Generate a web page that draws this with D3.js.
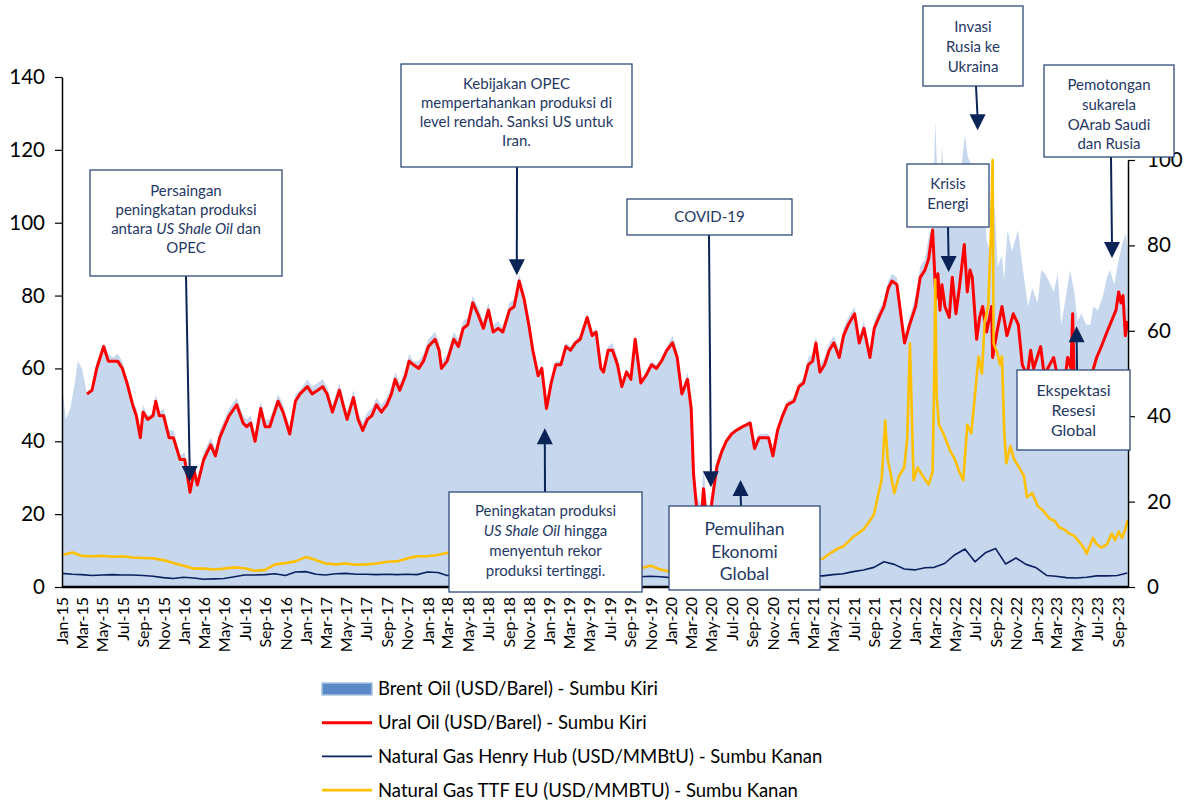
<!DOCTYPE html>
<html>
<head>
<meta charset="utf-8">
<script src="https://cdn.jsdelivr.net/npm/d3@7"></script>
<style>
  body { margin: 0; background: #fff; }
  svg { font-family: Lato, "Open Sans", sans-serif; }
</style>
</head>
<body>
<svg width="1188" height="803"></svg>
<script>
// Brent (USD/barel), left axis
var brent = [
  ["2015-01-01",55],["2015-01-13",46],["2015-01-26",49],["2015-02-10",57],["2015-02-17",62],["2015-03-02",60],["2015-03-17",53],["2015-04-01",55],["2015-04-15",62],["2015-05-06",67],["2015-05-20",64],["2015-06-03",63],["2015-06-17",64],["2015-07-01",62],["2015-07-15",57],["2015-08-01",51],["2015-08-12",49],["2015-08-24",43],["2015-09-01",50],["2015-09-15",47],["2015-10-01",48],["2015-10-09",53],["2015-10-20",48],["2015-11-02",49],["2015-11-18",43],["2015-12-01",43],["2015-12-21",36],
  ["2016-01-04",37],["2016-01-20",28],["2016-02-01",34],["2016-02-11",30],["2016-03-01",37],["2016-03-22",41],["2016-04-05",38],["2016-04-18",43],["2016-05-02",46],["2016-05-16",49],["2016-06-08",52],["2016-06-27",47],["2016-07-08",46],["2016-07-20",47],["2016-08-02",42],["2016-08-19",51],["2016-09-01",46],["2016-09-15",46],["2016-10-10",53],["2016-10-25",50],["2016-11-14",44],["2016-12-01",53],["2016-12-15",54],
  ["2017-01-06",57],["2017-01-20",55],["2017-02-06",56],["2017-02-21",57],["2017-03-06",55],["2017-03-22",50],["2017-04-12",56],["2017-04-26",51],["2017-05-05",48],["2017-05-24",54],["2017-06-07",48],["2017-06-21",45],["2017-07-05",48],["2017-07-18",49],["2017-08-01",52],["2017-08-16",50],["2017-09-01",52],["2017-09-15",55],["2017-09-26",59],["2017-10-10",56],["2017-10-27",60],["2017-11-07",64],["2017-11-20",62],["2017-12-06",62],["2017-12-20",64],
  ["2018-01-04",68],["2018-01-24",70],["2018-02-05",67],["2018-02-12",62],["2018-03-01",64],["2018-03-21",70],["2018-04-04",68],["2018-04-18",73],["2018-05-02",74],["2018-05-17",80],["2018-06-01",77],["2018-06-18",73],["2018-07-03",78],["2018-07-17",72],["2018-08-01",73],["2018-08-15",71],["2018-09-04",78],["2018-09-18",79],["2018-10-03",86],["2018-10-18",80],["2018-11-01",73],["2018-11-13",66],["2018-11-29",59],["2018-12-10",61],["2018-12-24",50],
  ["2019-01-07",57],["2019-01-21",62],["2019-02-05",62],["2019-02-20",67],["2019-03-06",66],["2019-03-21",68],["2019-04-04",69],["2019-04-25",75],["2019-05-10",70],["2019-05-22",71],["2019-06-05",61],["2019-06-13",60],["2019-06-27",66],["2019-07-10",67],["2019-07-25",63],["2019-08-07",56],["2019-08-21",60],["2019-09-03",58],["2019-09-16",69],["2019-10-03",57],["2019-10-18",59],["2019-11-04",62],["2019-11-19",61],["2019-12-04",63],["2019-12-20",66],
  ["2020-01-06",69],["2020-01-20",65],["2020-02-03",54],["2020-02-20",59],["2020-03-02",51],["2020-03-09",34],["2020-03-18",25],["2020-03-31",23],["2020-04-08",33],["2020-04-21",19],["2020-05-04",27],["2020-05-18",35],["2020-06-01",38],["2020-06-15",40],["2020-07-01",42],["2020-07-15",43],["2020-08-03",44],["2020-08-26",46],["2020-09-08",40],["2020-09-22",42],["2020-10-06",42],["2020-10-20",42],["2020-11-02",37],["2020-11-16",44],["2020-12-01",48],["2020-12-15",51],
  ["2021-01-04",52],["2021-01-19",56],["2021-02-02",57],["2021-02-16",63],["2021-03-01",64],["2021-03-11",69],["2021-03-23",61],["2021-04-06",63],["2021-04-20",67],["2021-05-04",69],["2021-05-20",65],["2021-06-02",71],["2021-06-16",74],["2021-07-05",77],["2021-07-19",69],["2021-08-02",73],["2021-08-20",65],["2021-09-02",73],["2021-09-16",76],["2021-10-01",79],["2021-10-14",84],["2021-10-25",86],["2021-11-09",85],["2021-11-26",73],["2021-12-02",69],["2021-12-17",74],
  ["2022-01-04",80],["2022-01-18",88],["2022-02-01",90],["2022-02-14",97],["2022-02-24",99],["2022-03-04",128],["2022-03-16",98],["2022-03-24",121],["2022-04-11",98],["2022-04-21",108],["2022-05-03",105],["2022-05-17",112],["2022-06-01",124],["2022-06-10",118],["2022-06-20",116],["2022-07-05",108],["2022-07-15",100],["2022-07-29",108],["2022-08-05",95],["2022-08-16",92],["2022-08-29",105],["2022-09-07",88],["2022-09-20",91],["2022-09-26",84],["2022-10-07",98],["2022-10-20",92],["2022-11-07",98],["2022-11-22",87],["2022-12-07",77],["2022-12-20",82],
  ["2023-01-05",78],["2023-01-16",87],["2023-01-27",86],["2023-02-08",84],["2023-02-22",81],["2023-03-06",86],["2023-03-17",72],["2023-03-31",80],["2023-04-12",87],["2023-04-25",81],["2023-05-04",73],["2023-05-16",75],["2023-05-31",72],["2023-06-12",72],["2023-06-21",77],["2023-07-05",76],["2023-07-20",80],["2023-08-01",85],["2023-08-10",87],["2023-08-23",83],["2023-09-01",88],["2023-09-15",94],["2023-09-27",97],["2023-10-02",92]
];

// Urals (USD/barel), left axis
var ural = [
  ["2015-03-17",53],["2015-04-01",54],["2015-04-15",60],["2015-05-06",66],["2015-05-20",62],["2015-06-03",62],["2015-06-17",62],["2015-07-01",60],["2015-07-15",56],["2015-08-01",50],["2015-08-12",47],["2015-08-24",41],["2015-09-01",48],["2015-09-15",46],["2015-10-01",47],["2015-10-09",51],["2015-10-20",47],["2015-11-02",47],["2015-11-18",41],["2015-12-01",41],["2015-12-21",35],
  ["2016-01-04",35],["2016-01-20",26],["2016-02-01",32],["2016-02-11",28],["2016-03-01",35],["2016-03-22",39],["2016-04-05",36],["2016-04-18",41],["2016-05-02",44],["2016-05-16",47],["2016-06-08",50],["2016-06-27",45],["2016-07-08",44],["2016-07-20",45],["2016-08-02",40],["2016-08-19",49],["2016-09-01",44],["2016-09-15",44],["2016-10-10",51],["2016-10-25",48],["2016-11-14",42],["2016-12-01",51],["2016-12-15",53],
  ["2017-01-06",55],["2017-01-20",53],["2017-02-06",54],["2017-02-21",55],["2017-03-06",53],["2017-03-22",48],["2017-04-12",54],["2017-04-26",49],["2017-05-05",46],["2017-05-24",52],["2017-06-07",46],["2017-06-21",43],["2017-07-05",46],["2017-07-18",47],["2017-08-01",50],["2017-08-16",48],["2017-09-01",50],["2017-09-15",53],["2017-09-26",57],["2017-10-10",54],["2017-10-27",58],["2017-11-07",62],["2017-11-20",61],["2017-12-06",60],["2017-12-20",62],
  ["2018-01-04",66],["2018-01-24",68],["2018-02-05",65],["2018-02-12",60],["2018-03-01",62],["2018-03-21",68],["2018-04-04",66],["2018-04-18",71],["2018-05-02",72],["2018-05-17",78],["2018-06-01",75],["2018-06-18",71],["2018-07-03",76],["2018-07-17",70],["2018-08-01",71],["2018-08-15",70],["2018-09-04",76],["2018-09-18",77],["2018-10-03",84],["2018-10-18",79],["2018-11-01",72],["2018-11-13",65],["2018-11-29",58],["2018-12-10",60],["2018-12-24",49],
  ["2019-01-07",56],["2019-01-21",61],["2019-02-05",61],["2019-02-20",66],["2019-03-06",65],["2019-03-21",67],["2019-04-04",68],["2019-04-25",74],["2019-05-10",69],["2019-05-22",70],["2019-06-05",60],["2019-06-13",59],["2019-06-27",65],["2019-07-10",65],["2019-07-25",61],["2019-08-07",55],["2019-08-21",59],["2019-09-03",57],["2019-09-16",68],["2019-10-03",56],["2019-10-18",58],["2019-11-04",61],["2019-11-19",60],["2019-12-04",62],["2019-12-20",65],
  ["2020-01-06",67],["2020-01-20",63],["2020-02-03",53],["2020-02-20",57],["2020-03-02",49],["2020-03-09",31],["2020-03-18",22],["2020-03-31",17],["2020-04-08",27],["2020-04-21",14],["2020-05-04",24],["2020-05-18",33],["2020-06-01",37],["2020-06-15",40],["2020-07-01",42],["2020-07-15",43],["2020-08-03",44],["2020-08-26",45],["2020-09-08",38],["2020-09-22",41],["2020-10-06",41],["2020-10-20",41],["2020-11-02",36],["2020-11-16",43],["2020-12-01",47],["2020-12-15",50],
  ["2021-01-04",51],["2021-01-19",55],["2021-02-02",56],["2021-02-16",61],["2021-03-01",62],["2021-03-11",67],["2021-03-23",59],["2021-04-06",61],["2021-04-20",65],["2021-05-04",67],["2021-05-20",63],["2021-06-02",69],["2021-06-16",72],["2021-07-05",75],["2021-07-19",67],["2021-08-02",71],["2021-08-20",63],["2021-09-02",71],["2021-09-16",74],["2021-10-01",77],["2021-10-14",82],["2021-10-25",84],["2021-11-09",83],["2021-11-26",71],["2021-12-02",67],["2021-12-17",72],
  ["2022-01-04",77],["2022-01-18",85],["2022-02-01",87],["2022-02-12",90],["2022-02-24",98],["2022-03-06",79],["2022-03-12",86],["2022-03-18",76],["2022-03-24",83],["2022-04-02",77],["2022-04-15",74],["2022-04-24",85],["2022-05-05",75],["2022-05-15",82],["2022-05-30",94],["2022-06-08",81],["2022-06-16",87],["2022-06-23",85],["2022-07-06",68],["2022-07-15",74],["2022-07-24",77],["2022-08-05",70],["2022-08-20",77],["2022-08-23",63],["2022-09-05",70],["2022-09-20",77],["2022-10-05",69],["2022-10-24",75],["2022-11-08",72],["2022-11-20",61],["2022-12-05",58],["2022-12-15",65],["2022-12-24",60],
  ["2023-01-14",66],["2023-01-25",58],["2023-02-04",60],["2023-02-22",63],["2023-03-05",58],["2023-03-17",52],["2023-03-28",57],["2023-04-05",63],["2023-04-15",60],["2023-04-20",75],["2023-04-24",59],["2023-05-10",55],["2023-05-25",57],["2023-06-05",56],["2023-06-15",58],["2023-07-01",63],["2023-07-15",66],["2023-08-01",70],["2023-08-19",74],["2023-08-28",76],["2023-09-05",81],["2023-09-12",78],["2023-09-18",80],["2023-09-25",69],["2023-10-02",73]
];

// Henry Hub (USD/MMBtu), right axis, one value per month from Jan 2015 to Oct 2023
var hhStart = "2015-01-01";
var hhValues = [
  3.2, 3.0, 2.9, 2.7, 2.8, 2.9, 2.8, 2.8, 2.7, 2.5, 2.2, 2.0,
  2.3, 2.1, 1.8, 1.9, 2.0, 2.4, 2.8, 2.8, 2.9, 3.1, 2.7, 3.5,
  3.6, 3.0, 2.8, 3.1, 3.2, 3.0, 3.0, 2.9, 3.0, 2.9, 3.0, 2.9,
  3.5, 3.4, 2.7, 2.8, 2.8, 2.9, 2.9, 2.9, 3.0, 3.1, 3.4, 4.6,
  3.8, 3.0, 2.8, 2.7, 2.6, 2.5, 2.3, 2.2, 2.4, 2.4, 2.5, 2.4,
  2.2, 1.9, 1.8, 1.7, 1.8, 1.7, 1.8, 2.1, 2.2, 2.3, 2.8, 2.6,
  2.6, 3.5, 2.7, 2.6, 2.9, 3.1, 3.6, 4.0, 4.6, 5.9, 5.3, 4.2,
  4.0, 4.5, 4.6, 5.5, 7.5, 8.9, 5.9, 8.0, 9.0, 5.4, 6.8, 5.3,
  4.5, 2.7, 2.5, 2.2, 2.1, 2.3, 2.6, 2.6, 2.7, 3.3
];

// TTF (USD/MMBtu), right axis: monthly 2015-2020, then denser points
var ttfStart = "2015-01-01";
var ttfMonthly = [
  7.5, 8.1, 7.3, 7.2, 7.3, 7.1, 7.2, 6.9, 6.8, 6.7, 6.3, 5.6,
  5.0, 4.3, 4.3, 4.1, 4.3, 4.6, 4.4, 3.8, 4.0, 5.3, 5.6, 6.0,
  7.0, 6.3, 5.5, 5.3, 5.5, 5.2, 5.3, 5.5, 5.9, 6.0, 6.7, 7.2,
  7.2, 7.5, 8.0, 7.2, 7.7, 7.6, 7.9, 8.3, 9.5, 8.8, 8.4, 7.8,
  7.4, 6.0, 5.1, 4.9, 4.2, 3.7, 3.8, 3.4, 4.1, 4.4, 5.0, 4.1,
  3.6, 3.0, 2.9, 2.1, 1.7, 1.8, 2.0, 2.9, 4.0, 4.8, 5.0, 5.8
];
var ttfRecent = [
  ["2021-01-01",6.5],["2021-01-15",7.8],["2021-02-01",6.8],["2021-02-15",6.5],["2021-03-01",6.3],["2021-03-15",6.5],["2021-04-01",6.6],["2021-04-15",7.5],["2021-05-01",8.3],["2021-05-15",9.0],["2021-06-01",9.5],["2021-06-15",10.5],["2021-07-01",11.8],["2021-07-15",12.5],["2021-08-01",13.5],["2021-08-15",15],["2021-09-01",17],["2021-09-15",22],["2021-09-24",25],["2021-10-05",39],["2021-10-12",30],["2021-10-20",27],["2021-11-01",22],["2021-11-15",26],["2021-12-01",28],["2021-12-10",35],["2021-12-18",57],["2021-12-29",25],
  ["2022-01-10",28],["2022-01-25",26],["2022-02-12",24],["2022-02-24",27],["2022-03-01",50],["2022-03-04",72],["2022-03-08",45],["2022-03-15",38],["2022-03-28",36],["2022-04-17",32],["2022-05-01",30],["2022-05-15",27],["2022-05-27",25],["2022-06-08",38],["2022-06-20",36],["2022-07-01",45],["2022-07-12",54],["2022-07-22",50],["2022-07-30",62],["2022-08-10",66],["2022-08-18",83],["2022-08-23",100],["2022-08-26",57],["2022-09-05",55],["2022-09-15",52],["2022-09-20",54],["2022-09-27",36],["2022-10-03",29],["2022-10-15",33],["2022-10-26",30],["2022-11-10",28],["2022-11-25",26],["2022-12-04",21],["2022-12-20",22],
  ["2023-01-05",19],["2023-01-20",18],["2023-02-10",16],["2023-02-25",15.5],["2023-03-10",14],["2023-03-25",13.5],["2023-04-10",12.5],["2023-04-25",12],["2023-05-10",10.5],["2023-05-25",9],["2023-06-01",7.8],["2023-06-10",9.5],["2023-06-20",11.5],["2023-07-01",10],["2023-07-15",9.2],["2023-08-01",10],["2023-08-15",12.5],["2023-08-25",11],["2023-09-05",13],["2023-09-15",11.5],["2023-09-25",13.5],["2023-10-02",15.7]
];

var leftTicks = [0, 20, 40, 60, 80, 100, 120, 140];
var rightTicks = [0, 20, 40, 60, 80, 100];

var legendItems = [
  {label: "Brent Oil (USD/Barel) - Sumbu Kiri", type: "area"},
  {label: "Ural Oil (USD/Barel) - Sumbu Kiri", type: "ural"},
  {label: "Natural Gas Henry Hub (USD/MMBtU) - Sumbu Kanan", type: "hh"},
  {label: "Natural Gas TTF EU (USD/MMBTU) - Sumbu Kanan", type: "ttf"}
];

// annotation boxes: text, box in pixels, arrow tip at [date, left-axis value]
var notes = [
  {lines: ["Persaingan", "peningkatan produksi", "antara *US Shale Oil* dan", "OPEC"], tip: ["2016-01-19", 28.8]},
  {lines: ["Kebijakan OPEC", "mempertahankan produksi di", "level rendah. Sanksi US untuk", "Iran."], tip: ["2018-09-26", 85.6]},
  {lines: ["Peningkatan produksi", "*US Shale Oil* hingga", "menyentuh rekor", "produksi tertinggi."], tip: ["2018-12-19", 43.6]},
  {lines: ["COVID-19"], tip: ["2020-04-30", 27.4]},
  {lines: ["Pemulihan", "Ekonomi", "Global"], tip: ["2020-07-28", 29.4]},
  {lines: ["Invasi", "Rusia ke", "Ukraina"], tip: ["2022-07-09", 125.4]},
  {lines: ["Krisis", "Energi"], tip: ["2022-04-13", 86.5]},
  {lines: ["Pemotongan", "sukarela", "OArab Saudi", "dan Rusia"], tip: ["2023-08-16", 90.3]},
  {lines: ["Ekspektasi", "Resesi", "Global"], tip: ["2023-05-02", 71.6]}
];
var noteLayout = [
  {x: 90, y: 170, w: 192, h: 106, ty: 191, lh: 19, size: 15, ax: 186, dir: "down"},
  {x: 401, y: 64, w: 231, h: 103, ty: 84, lh: 19, size: 15, ax: 517, dir: "down"},
  {x: 449, y: 492, w: 193, h: 100, ty: 511, lh: 20, size: 15, ax: 545, dir: "up"},
  {x: 627, y: 199, w: 165, h: 36, ty: 217, lh: 19, size: 15, ax: 709, dir: "down"},
  {x: 669, y: 506, w: 151, h: 84, ty: 529, lh: 22.5, size: 17.5, ax: 741, dir: "up"},
  {x: 923, y: 6, w: 100, h: 80, ty: 27, lh: 20, size: 15, ax: 976, dir: "down"},
  {x: 907, y: 164, w: 82, h: 63, ty: 184, lh: 20, size: 15, ax: 948, dir: "down"},
  {x: 1044, y: 65, w: 130, h: 92, ty: 85, lh: 19.7, size: 15, ax: 1111, dir: "down"},
  {x: 1017, y: 370, w: 113, h: 80, ty: 390, lh: 20, size: 16, ax: 1077, dir: "up"}
];

var plot = {left: 62, right: 1128, top: 77, bottom: 587, rightTop: 160};
var navy = "#1f3864";

var parse = d3.timeParse("%Y-%m-%d");
function pairs(arr) { return arr.map(d => ({date: parse(d[0]), v: d[1]})); }
function monthly(start, vals) {
  var s = parse(start);
  return vals.map((v, i) => ({date: d3.timeMonth.offset(s, i), v: v}));
}

var brentData = pairs(brent);
var uralData = pairs(ural);
var hhData = monthly(hhStart, hhValues);
var ttfData = monthly(ttfStart, ttfMonthly).concat(pairs(ttfRecent));

var x = d3.scaleTime()
  .domain([parse("2015-01-01"), parse("2023-10-03")])
  .range([plot.left, plot.right]);
var yL = d3.scaleLinear().domain([0, 140]).range([plot.bottom, plot.top]);
var yR = d3.scaleLinear().domain([0, 100]).range([plot.bottom, plot.rightTop]);

var svg = d3.select("svg");

svg.append("path")
  .datum(brentData)
  .attr("fill", "#c6d7ee")
  .attr("d", d3.area().x(d => x(d.date)).y0(yL(0)).y1(d => yL(d.v)));

var lineL = d3.line().x(d => x(d.date)).y(d => yL(d.v));
var lineR = d3.line().x(d => x(d.date)).y(d => yR(d.v));

svg.append("path").datum(uralData)
  .attr("fill", "none").attr("stroke", "#ff0000").attr("stroke-width", 3)
  .attr("stroke-linejoin", "round").attr("d", lineL);
svg.append("path").datum(hhData)
  .attr("fill", "none").attr("stroke", "#0b2060").attr("stroke-width", 1.6)
  .attr("stroke-linejoin", "round").attr("d", lineR);
svg.append("path").datum(ttfData)
  .attr("fill", "none").attr("stroke", "#ffc000").attr("stroke-width", 2.6)
  .attr("stroke-linejoin", "round").attr("d", lineR);

// axes
var gL = svg.append("g")
  .attr("transform", "translate(" + plot.left + ",0)")
  .call(d3.axisLeft(yL).tickValues(leftTicks).tickSize(7).tickSizeOuter(0).tickPadding(10));
var gR = svg.append("g")
  .attr("transform", "translate(" + plot.right + ",0)")
  .call(d3.axisRight(yR).tickValues(rightTicks).tickSize(7).tickSizeOuter(0).tickPadding(12));
[gL, gR].forEach(g => {
  g.select(".domain").attr("stroke", "#000").attr("stroke-width", 1.5);
  g.selectAll(".tick line").attr("stroke", "#000").attr("stroke-width", 1.2);
  g.selectAll(".tick text").attr("font-size", 20.5).attr("fill", "#000")
    .style("font-family", "Lato, 'Open Sans', sans-serif");
});

var gX = svg.append("g")
  .attr("transform", "translate(0," + plot.bottom + ")")
  .call(d3.axisBottom(x).ticks(d3.timeMonth.every(2)).tickFormat(d3.timeFormat("%b-%y")).tickSize(0));
gX.select(".domain").remove();
gX.selectAll(".tick text")
  .attr("transform", "rotate(-90)")
  .attr("x", -10).attr("y", 0).attr("dy", "0.36em")
  .style("text-anchor", "end")
  .style("font-family", "Lato, 'Open Sans', sans-serif")
  .attr("font-size", 16).attr("fill", "#000");

svg.append("line")
  .attr("x1", plot.left).attr("x2", plot.right)
  .attr("y1", plot.bottom).attr("y2", plot.bottom)
  .attr("stroke", "#000").attr("stroke-width", 2.5);

// annotations
notes.forEach((n, i) => {
  var L = noteLayout[i];
  var tx = x(parse(n.tip[0])), ty = yL(n.tip[1]);
  var g = svg.append("g");
  var sgn = L.dir === "down" ? -1 : 1;
  var by = L.dir === "down" ? L.y + L.h : L.y;
  g.append("line")
    .attr("x1", L.ax).attr("y1", by)
    .attr("x2", tx).attr("y2", ty + sgn * 12)
    .attr("stroke", "#0a2458").attr("stroke-width", 2);
  g.append("path")
    .attr("d", "M" + (tx - 8) + "," + (ty + sgn * 16) + "L" + (tx + 8) + "," + (ty + sgn * 16) + "L" + tx + "," + ty + "Z")
    .attr("fill", "#0a2458");
  g.append("rect")
    .attr("x", L.x).attr("y", L.y).attr("width", L.w).attr("height", L.h)
    .attr("fill", "#fff").attr("stroke", "#2f4b7c").attr("stroke-width", 1.3);
  n.lines.forEach((line, j) => {
    var t = g.append("text")
      .attr("x", L.x + L.w / 2).attr("y", L.ty + j * L.lh)
      .attr("dy", "0.35em").attr("text-anchor", "middle")
      .attr("font-size", L.size).attr("fill", navy);
    line.split("*").forEach((part, k) => {
      if (!part) return;
      t.append("tspan").text(part).attr("font-style", k % 2 ? "italic" : "normal");
    });
  });
});

// legend
var leg = svg.append("g");
legendItems.forEach((d, i) => {
  var cy = 689 + i * 33.7;
  if (d.type === "area") {
    leg.append("rect").attr("x", 322).attr("y", cy - 6).attr("width", 50).attr("height", 12)
      .attr("fill", "#5b89c5").attr("stroke", "#a9c2e4").attr("stroke-width", 1.5);
  } else {
    var col = d.type === "ural" ? "#ff0000" : d.type === "hh" ? "#0b2060" : "#ffc000";
    var sw = d.type === "ural" ? 3 : d.type === "hh" ? 1.6 : 2.6;
    leg.append("line").attr("x1", 322).attr("x2", 372).attr("y1", cy).attr("y2", cy)
      .attr("stroke", col).attr("stroke-width", sw);
  }
  leg.append("text").attr("x", 378).attr("y", cy).attr("dy", "0.35em")
    .attr("font-size", 18.5).attr("fill", "#000").text(d.label);
});
</script>
</body>
</html>
